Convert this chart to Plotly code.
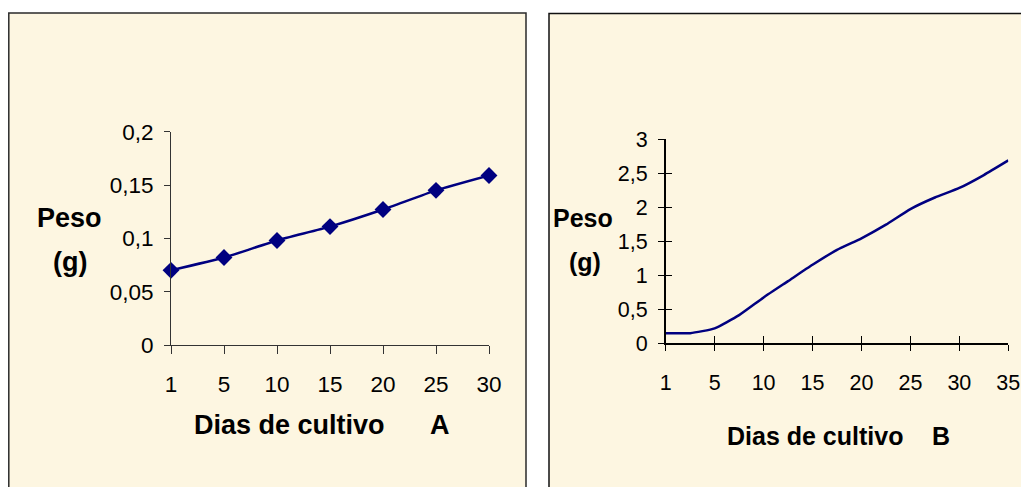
import plotly.graph_objects as go

# ---------------- data ----------------
a_days = ["1", "5", "10", "15", "20", "25", "30"]
a_peso = [0.070, 0.082, 0.098, 0.111, 0.127, 0.145, 0.159]

b_day_labels = ["1", "5", "10", "15", "20", "25", "30", "35"]
b_pos = [0, 0.5, 1, 1.5, 2, 2.5, 3, 3.5, 4, 4.5, 5, 5.5, 6, 6.5, 7]
b_peso = [0.145, 0.145, 0.215, 0.41, 0.67, 0.91, 1.15, 1.37, 1.54, 1.74,
          1.97, 2.14, 2.28, 2.47, 2.685]

W, H = 1029, 487
OFF = 8  # page body margin
FONT = "Liberation Sans, Arial, sans-serif"
NAVY = "#000080"
BG = "#FDF6E1"


def px(x):
    return (x - OFF) / W


def py(y):
    return 1 - (y - OFF) / H


fig = go.Figure()

fig.add_trace(go.Scatter(
    x=a_days, y=a_peso, mode="lines+markers",
    line=dict(color=NAVY, width=2.5, shape="spline", smoothing=0.5),
    marker=dict(symbol="diamond", size=13, color=NAVY),
    xaxis="x", yaxis="y", showlegend=False, hoverinfo="x+y", cliponaxis=False))

fig.add_trace(go.Scatter(
    x=b_pos, y=b_peso, mode="lines",
    line=dict(color=NAVY, width=2.5, shape="spline", smoothing=0.5),
    xaxis="x2", yaxis="y2", showlegend=False, hoverinfo="y"))

# empty traces to instantiate overlay axes (inside ticks -> "cross" ticks)
fig.add_trace(go.Scatter(x=[], y=[], xaxis="x3", yaxis="y2", showlegend=False))
fig.add_trace(go.Scatter(x=[], y=[], xaxis="x2", yaxis="y3", showlegend=False))

tickfontA = dict(family=FONT, size=22.5, color="#000")
tickfontB = dict(family=FONT, size=21.5, color="#000")

fig.update_layout(
    width=W, height=H,
    margin=dict(l=0, r=0, t=0, b=0, autoexpand=False),
    paper_bgcolor="white",
    plot_bgcolor=BG,
    separators=",.",
    showlegend=False,
    xaxis=dict(
        type="category", domain=[px(171), px(489)], anchor="y", automargin=False,
        range=[0, 6], showgrid=False, zeroline=False,
        showline=True, linecolor="#333", linewidth=1,
        ticks="outside", ticklen=8, tickcolor="#333",
        tickfont=tickfontA, ticklabelstandoff=11),
    yaxis=dict(
        domain=[py(345), py(131.7)], anchor="x", automargin=False,
        range=[0, 0.2], dtick=0.05, showgrid=False, zeroline=False,
        showline=True, linecolor="#333", linewidth=1,
        ticks="outside", ticklen=6, tickcolor="#333",
        tickfont=tickfontA, ticklabelstandoff=6),
    xaxis2=dict(
        domain=[px(665.7), px(1008.3)], anchor="y2", automargin=False,
        range=[0, 7], tickvals=list(range(len(b_day_labels))),
        ticktext=b_day_labels, showgrid=False, zeroline=False,
        showline=True, linecolor="#000", linewidth=1.5,
        ticks="outside", ticklen=6, tickcolor="#000", tickwidth=1.2,
        tickfont=tickfontB, ticklabelstandoff=13),
    xaxis3=dict(
        overlaying="x2", anchor="y2", automargin=False,
        range=[0, 7], tickvals=list(range(len(b_day_labels))),
        showticklabels=False, showgrid=False, zeroline=False, showline=False,
        ticks="inside", ticklen=7, tickcolor="#000", tickwidth=1.2),
    yaxis2=dict(
        domain=[py(343), py(139)], anchor="x2", automargin=False,
        range=[0, 3], dtick=0.5, showgrid=False, zeroline=False,
        showline=True, linecolor="#000", linewidth=1.5,
        ticks="outside", ticklen=6, tickcolor="#000", tickwidth=1.2,
        tickfont=tickfontB, ticklabelstandoff=6),
    yaxis3=dict(
        overlaying="y2", anchor="x2", automargin=False,
        range=[0, 3], dtick=0.5,
        showticklabels=False, showgrid=False, zeroline=False, showline=False,
        ticks="inside", ticklen=6, tickcolor="#000", tickwidth=1.2),
)

# panel frames
fig.add_shape(type="rect", xref="paper", yref="paper",
              x0=px(8.8), x1=px(526), y0=-0.2, y1=py(13),
              line=dict(color="#2a2a2a", width=1.5), fillcolor=BG, layer="below")
fig.add_shape(type="rect", xref="paper", yref="paper",
              x0=px(549), x1=px(1060), y0=-0.2, y1=py(13.5),
              line=dict(color="#111", width=1.5), fillcolor=BG, layer="below")


def label(text, x, y, size):
    fig.add_annotation(text=text, x=px(x), y=py(y), xref="paper", yref="paper",
                       showarrow=False, xanchor="center", yanchor="middle",
                       font=dict(family=FONT, size=size, color="#000"))


# Panel A labels
label("<b>Peso</b>", 69, 218, 27)
label("<b>(g)</b>", 70, 262, 27)
label("<b>Dias de cultivo</b>", 289.5, 425, 27)
label("<b>A</b>", 440, 425, 27)

# Panel B labels
label("<b>Peso</b>", 583, 218, 25)
label("<b>(g)</b>", 585, 262, 25)
label("<b>Dias de cultivo</b>", 815, 436, 25)
label("<b>B</b>", 940.5, 436, 25)

fig.write_html("out.html")
